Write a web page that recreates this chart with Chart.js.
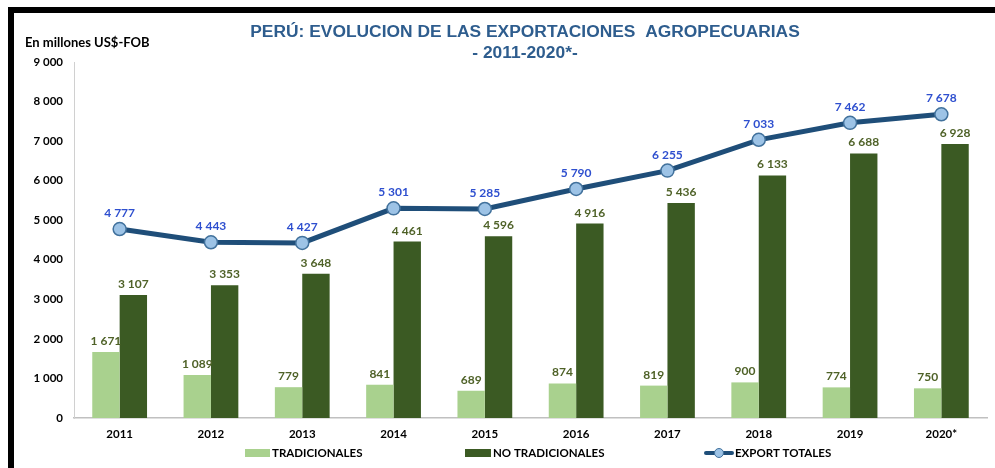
<!DOCTYPE html>
<html>
<head>
<meta charset="utf-8">
<script src="https://cdn.jsdelivr.net/npm/chart.js@4/dist/chart.umd.min.js"></script>
<style>
html,body{margin:0;padding:0;background:#fff;}
#wrap{position:relative;width:995px;height:468px;}
</style>
</head>
<body>
<div id="wrap"><canvas id="c" width="995" height="468"></canvas></div>
<script>
const categories = ['2011','2012','2013','2014','2015','2016','2017','2018','2019','2020*'];
const tradicionales = [1671, 1089, 779, 841, 689, 874, 819, 900, 774, 750];
const noTradicionales = [3107, 3353, 3648, 4461, 4596, 4916, 5436, 6133, 6688, 6928];
const exportTotales = [4777, 4443, 4427, 5301, 5285, 5790, 6255, 7033, 7462, 7678];
const yTicks = [0, 1000, 2000, 3000, 4000, 5000, 6000, 7000, 8000, 9000];
const titleLines = ['PERÚ: EVOLUCION DE LAS EXPORTACIONES  AGROPECUARIAS', '- 2011-2020*-'];
const axisCaption = 'En millones US$-FOB';
const seriesNames = ['TRADICIONALES', 'NO TRADICIONALES', 'EXPORT TOTALES'];

const BODY_FONT = 'Lato, "Open Sans", sans-serif';
const C_LIGHT = '#a9d18e', C_DARK = '#3b5a23', C_LINE = '#1f4e79', C_POINT = '#9dc3e6';
const C_BARLABEL = '#4f6228', C_LINELABEL = '#2e4fcf';

function fmt(v){ return String(v).replace(/\B(?=(\d{3})+(?!\d))/g, ' '); }

const decor = {
  id: 'decor',
  beforeDraw(chart){
    const ctx = chart.ctx;
    ctx.save();
    ctx.fillStyle = '#fff';
    ctx.fillRect(0,0,chart.width,chart.height);
    ctx.restore();
  },
  afterDatasetsDraw(chart){
    const ctx = chart.ctx;
    ctx.save();
    ctx.textAlign = 'center';
    ctx.textBaseline = 'alphabetic';
    ctx.font = 'bold 12px ' + BODY_FONT;
    [0,1].forEach(di => {
      const meta = chart.getDatasetMeta(di);
      ctx.fillStyle = C_BARLABEL;
      meta.data.forEach((el, i) => {
        const v = chart.data.datasets[di].data[i];
        ctx.fillText(fmt(v), el.x, el.y - 7);
      });
    });
    const lm = chart.getDatasetMeta(2);
    ctx.fillStyle = C_LINELABEL;
    lm.data.forEach((el, i) => {
      ctx.fillText(fmt(chart.data.datasets[2].data[i]), el.x, el.y - 12);
    });
    ctx.restore();
  },
  afterDraw(chart){
    const ctx = chart.ctx;
    ctx.save();
    // frame
    ctx.fillStyle = '#000';
    ctx.fillRect(8, 7, chart.width - 8, 6);
    ctx.fillRect(8, 7, 6, chart.height - 7);
    // title
    ctx.fillStyle = '#2e5d8e';
    ctx.textAlign = 'center';
    ctx.textBaseline = 'middle';
    ctx.font = 'bold 17.4px "Liberation Sans", Arial, sans-serif';
    ctx.fillText(titleLines[0], 525, 32);
    ctx.fillText(titleLines[1], 525, 53);
    // axis caption
    ctx.fillStyle = '#000';
    ctx.textAlign = 'left';
    ctx.font = 'bold 13px ' + BODY_FONT;
    ctx.fillText(axisCaption, 25, 43);
    // legend
    const ly = 453;
    ctx.font = 'bold 11.5px ' + BODY_FONT;
    ctx.fillStyle = C_LIGHT;
    ctx.fillRect(245, ly - 4, 25, 8);
    ctx.fillStyle = '#000';
    ctx.fillText(seriesNames[0], 272, ly);
    ctx.fillStyle = C_DARK;
    ctx.fillRect(465, ly - 4, 26, 8);
    ctx.fillStyle = '#000';
    ctx.fillText(seriesNames[1], 493, ly);
    ctx.strokeStyle = C_LINE;
    ctx.lineWidth = 4;
    ctx.lineCap = 'round';
    ctx.beginPath(); ctx.moveTo(706, ly); ctx.lineTo(732, ly); ctx.stroke();
    ctx.fillStyle = C_POINT;
    ctx.strokeStyle = '#41719c';
    ctx.lineWidth = 1;
    ctx.beginPath(); ctx.arc(719, ly, 4.5, 0, Math.PI*2); ctx.fill(); ctx.stroke();
    ctx.fillStyle = '#000';
    ctx.fillText(seriesNames[2], 735, ly);
    ctx.restore();
  }
};

new Chart(document.getElementById('c'), {
  data: {
    labels: categories,
    datasets: [
      { type: 'bar', label: seriesNames[0], data: tradicionales, backgroundColor: C_LIGHT,
        categoryPercentage: 0.6, barPercentage: 1.0, order: 2 },
      { type: 'bar', label: seriesNames[1], data: noTradicionales, backgroundColor: C_DARK,
        categoryPercentage: 0.6, barPercentage: 1.0, order: 2 },
      { type: 'line', label: seriesNames[2], data: exportTotales, borderColor: C_LINE, borderWidth: 5,
        pointRadius: 6.5, pointHoverRadius: 6.5, pointBackgroundColor: C_POINT, pointBorderColor: '#41719c',
        pointBorderWidth: 1.5, tension: 0, order: 1 }
    ]
  },
  options: {
    responsive: false,
    animation: false,
    events: [],
    layout: { padding: { top: 62, right: 4, left: 0, bottom: 0 } },
    plugins: { legend: { display: false }, tooltip: { enabled: false }, title: { display: false } },
    scales: {
      x: {
        grid: { display: false, drawTicks: false },
        border: { display: true, color: '#c0c0c0', width: 1.5 },
        ticks: { color: '#000', font: { family: BODY_FONT, weight: 'bold', size: 11.5 }, padding: 9, maxRotation: 0 },
        afterFit(s){ s.height = 50; }
      },
      y: {
        min: 0, max: 9000,
        afterBuildTicks(s){ s.ticks = yTicks.map(v => ({ value: v })); },
        grid: { display: false, drawTicks: false },
        border: { display: true, color: '#d0d0d0', width: 1 },
        ticks: { color: '#000', font: { family: BODY_FONT, weight: 'bold', size: 11.5 }, padding: 11,
                 callback: v => fmt(v) },
        afterFit(s){ s.width = 74; }
      }
    }
  },
  plugins: [decor]
});
</script>
</body>
</html>
